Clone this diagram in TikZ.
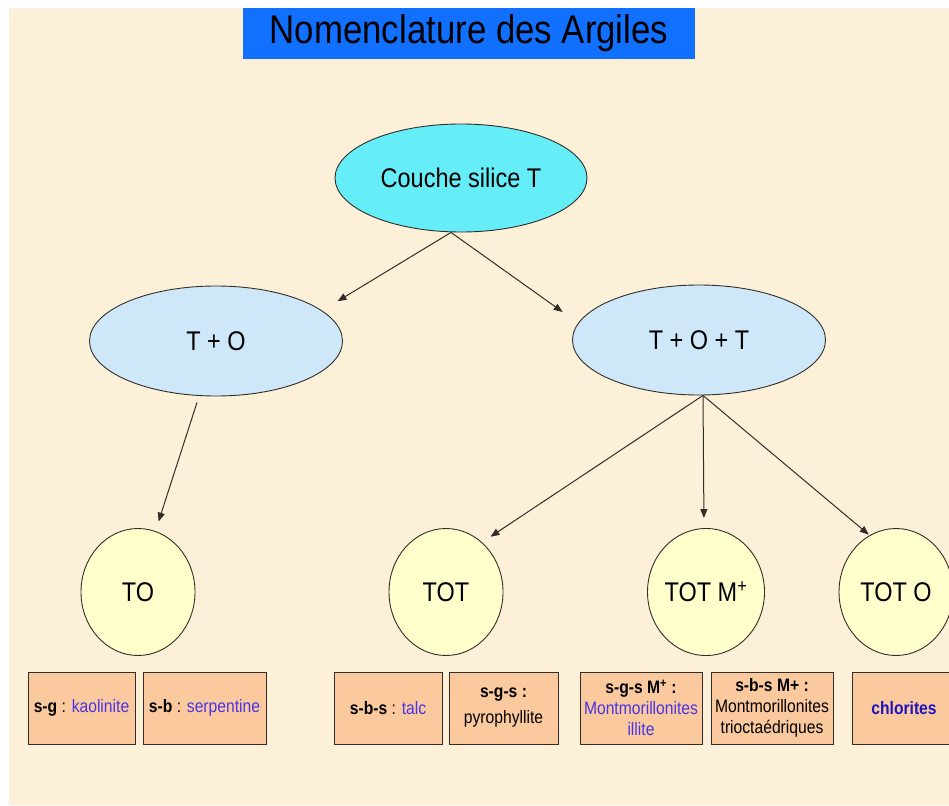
\documentclass[tikz,border=0pt]{standalone}
\usepackage{fontspec}
\setmainfont[FakeStretch=0.87]{Liberation Sans}
\usetikzlibrary{shapes.geometric,arrows.meta}

\definecolor{paper}{RGB}{252,240,216}
\definecolor{titleblue}{RGB}{18,112,255}
\definecolor{cyanfill}{RGB}{102,238,248}
\definecolor{paleblue}{RGB}{206,232,250}
\definecolor{paleyellow}{RGB}{255,255,204}
\definecolor{peach}{RGB}{251,201,158}
\definecolor{inkblue}{RGB}{72,52,228}
\definecolor{deepblue}{RGB}{28,20,190}
\definecolor{edge}{RGB}{50,45,40}

\begin{document}
\begin{tikzpicture}[x=1pt,y=-1pt,
  oval/.style={ellipse,draw=edge,line width=0.9pt,inner sep=0pt,
    font=\fontsize{27}{30}\selectfont},
  family/.style={oval,minimum width=253pt,minimum height=110pt,fill=paleblue},
  member/.style={oval,minimum width=114pt,minimum height=127pt,fill=paleyellow},
  mineral/.style={rectangle,draw=edge,line width=0.9pt,fill=peach,inner sep=0pt,
    minimum height=72pt,align=center,font=\fontsize{18}{21}\selectfont},
  arr/.style={draw=edge,line width=1pt,-{Triangle[length=9pt,width=7pt]}}]

% page and background
\useasboundingbox (0,0) rectangle (949,805);
\fill[white] (0,0) rectangle (949,805);
\fill[paper] (9,8) rectangle (949,805);

% title banner
\node[fill=titleblue,minimum width=452pt,minimum height=51pt,inner sep=0pt,
  font=\fontsize{40}{44}\selectfont] (title) at (469,33.5) {Nomenclature des Argiles};

% tree of layers
\node[oval,fill=cyanfill,minimum width=252pt,minimum height=108pt] (cst) at (461,178) {Couche silice T};
\node[family] (tplo)  at (216,341) {T + O};
\node[family] (tplot) at (699,340) {T + O + T};

\node[member] (nTO)  at (138,592) {TO};
\node[member] (nTOT) at (446,592) {TOT};
\node[member] (nTOM) at (706,592) {TOT M\textsuperscript{+}};
\node[member] (nTOO) at (896,592) {TOT O};

% connectors
\draw[arr,shorten >=18pt] ([xshift=-10pt]cst.south) -- (tplo.16);
\draw[arr,shorten >=19pt] ([xshift=-10pt]cst.south) -- (tplot.172);
\draw[arr,shorten >=10pt] ([xshift=-19pt,yshift=-6pt]tplo.south) -- (nTO.74);
\draw[arr,shorten >=10pt] ([xshift=4pt]tplot.south) -- (nTOT.54);
\draw[arr,shorten >=10pt] ([xshift=4pt]tplot.south) -- ([xshift=-2pt]nTOM.north);
\draw[arr,shorten >=1pt]  ([xshift=4pt]tplot.south) -- (nTOO.115);

% mineral boxes
\node[mineral,minimum width=107pt] (b1) at (81.5,708)
  {\textbf{s-g} : \textcolor{inkblue}{kaolinite}};
\node[mineral,minimum width=123pt] (b2) at (204.5,708)
  {\textbf{s-b} : \textcolor{inkblue}{serpentine}};
\node[mineral,minimum width=108pt] (b3) at (388,708)
  {\textbf{s-b-s} : \textcolor{inkblue}{talc}};
\node[mineral,minimum width=109pt] (b4) at (503.5,708)
  {\textbf{s-g-s :}\\[5pt]pyrophyllite};
\node[mineral,minimum width=122pt] (b5) at (641,708)
  {\textbf{s-g-s M\textsuperscript{+} :}\\\textcolor{inkblue}{Montmorillonites}\\\textcolor{inkblue}{illite}};
\node[mineral,minimum width=122pt] (b6) at (772,708)
  {\textbf{s-b-s M+ :}\\Montmorillonites\\trioctaédriques};
\node[mineral,minimum width=104pt] (b7) at (904,708)
  {\textcolor{deepblue}{\textbf{chlorites}}};

\end{tikzpicture}
\end{document}
